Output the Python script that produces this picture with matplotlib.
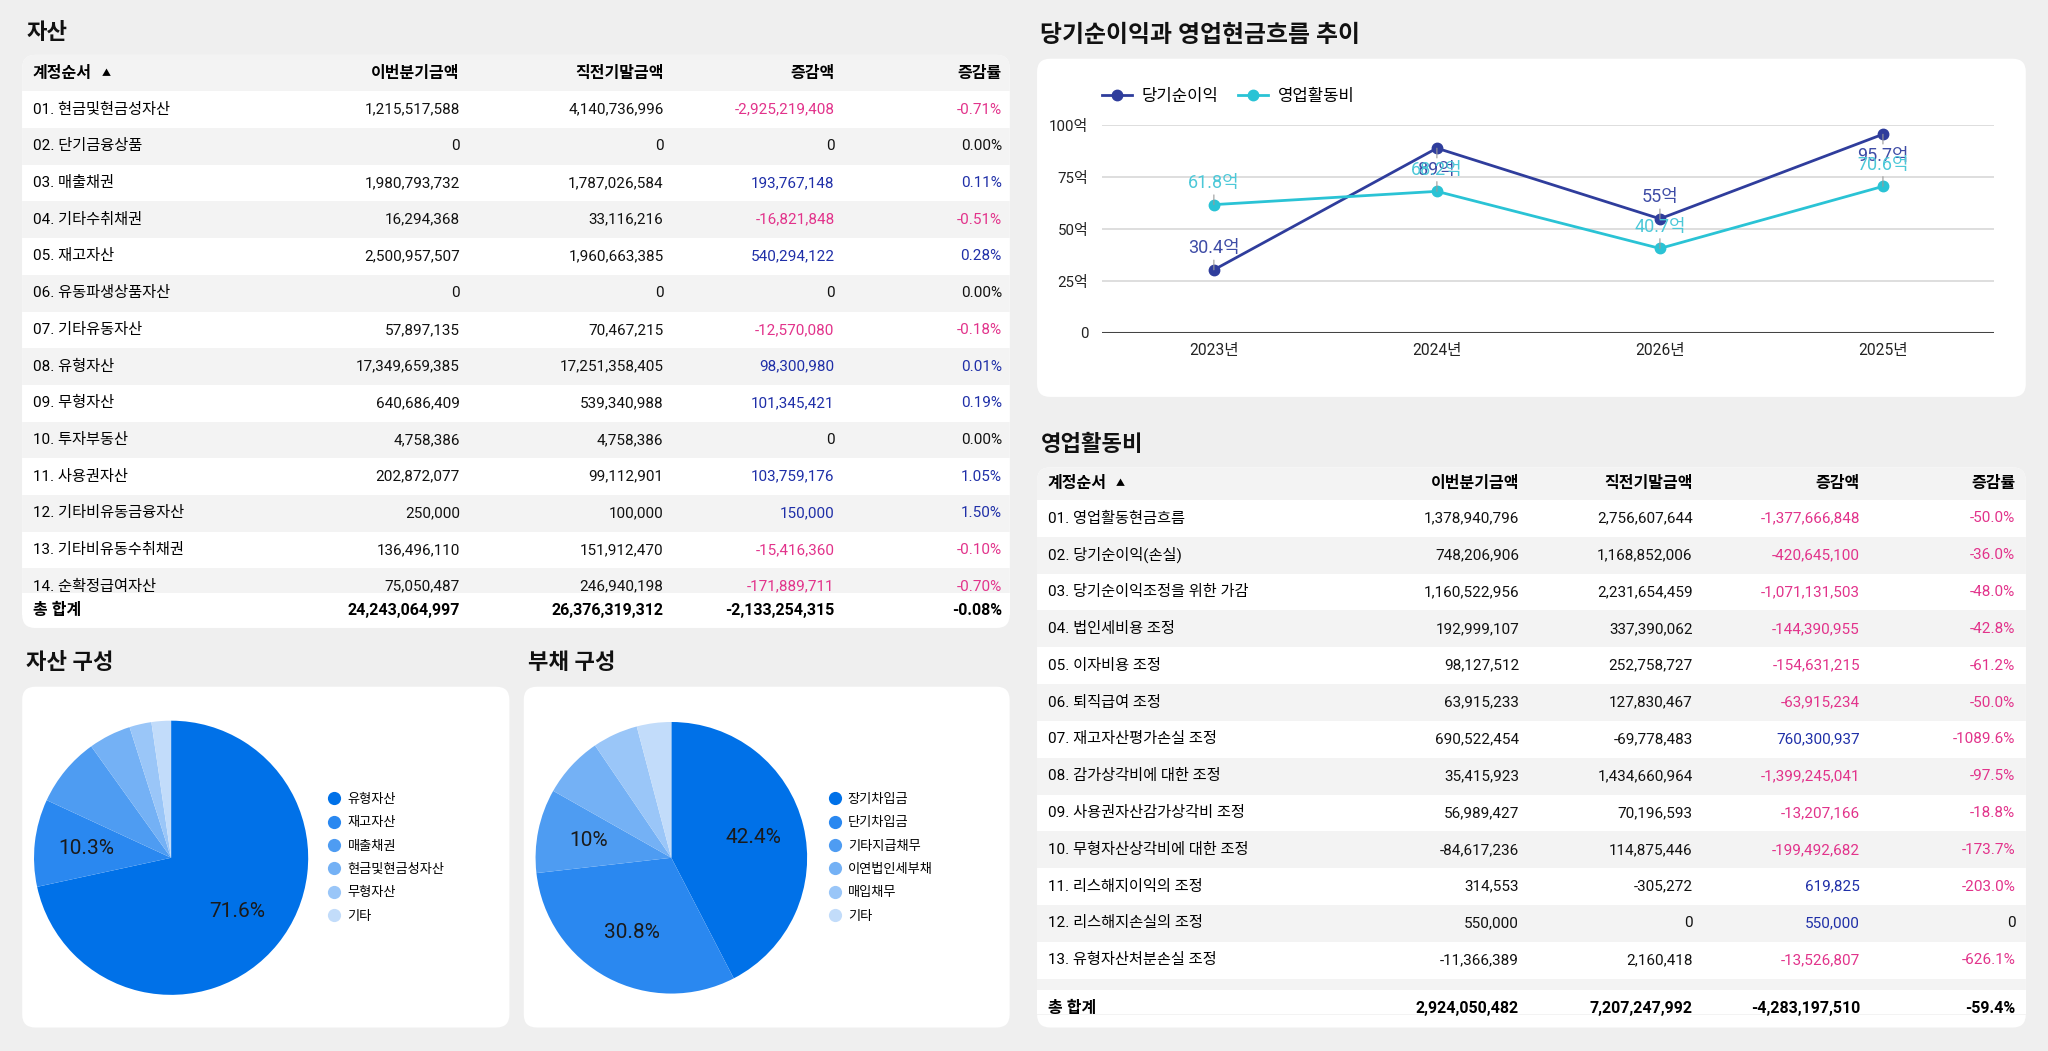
import numpy as np
import matplotlib
matplotlib.use("Agg")
import matplotlib.pyplot as plt
from matplotlib.patches import FancyBboxPatch, Rectangle
from matplotlib.lines import Line2D

plt.rcParams['font.family'] = ['Roboto', 'Noto Sans CJK KR', 'DejaVu Sans']

# ---- 자산 table ----
asset_cols = ["이번분기금액", "직전기말금액", "증감액", "증감률"]
asset_names = ["01. 현금및현금성자산", "02. 단기금융상품", "03. 매출채권", "04. 기타수취채권",
               "05. 재고자산", "06. 유동파생상품자산", "07. 기타유동자산", "08. 유형자산",
               "09. 무형자산", "10. 투자부동산", "11. 사용권자산", "12. 기타비유동금융자산",
               "13. 기타비유동수취채권", "14. 순확정급여자산"]
asset_cur = [1215517588, 0, 1980793732, 16294368, 2500957507, 0, 57897135, 17349659385,
             640686409, 4758386, 202872077, 250000, 136496110, 75050487]
asset_prev = [4140736996, 0, 1787026584, 33116216, 1960663385, 0, 70467215, 17251358405,
              539340988, 4758386, 99112901, 100000, 151912470, 246940198]
asset_diff = [-2925219408, 0, 193767148, -16821848, 540294122, 0, -12570080, 98300980,
              101345421, 0, 103759176, 150000, -15416360, -171889711]
asset_rate = ["-0.71%", "0.00%", "0.11%", "-0.51%", "0.28%", "0.00%", "-0.18%", "0.01%",
              "0.19%", "0.00%", "1.05%", "1.50%", "-0.10%", "-0.70%"]
asset_total = [24243064997, 26376319312, -2133254315]
asset_total_rate = "-0.08%"

# ---- 영업활동비 table ----
cf_names = ["01. 영업활동현금흐름", "02. 당기순이익(손실)", "03. 당기순이익조정을 위한 가감",
            "04. 법인세비용 조정", "05. 이자비용 조정", "06. 퇴직급여 조정",
            "07. 재고자산평가손실 조정", "08. 감가상각비에 대한 조정", "09. 사용권자산감가상각비 조정",
            "10. 무형자산상각비에 대한 조정", "11. 리스해지이익의 조정", "12. 리스해지손실의 조정",
            "13. 유형자산처분손실 조정"]
cf_cur = [1378940796, 748206906, 1160522956, 192999107, 98127512, 63915233, 690522454,
          35415923, 56989427, -84617236, 314553, 550000, -11366389]
cf_prev = [2756607644, 1168852006, 2231654459, 337390062, 252758727, 127830467, -69778483,
           1434660964, 70196593, 114875446, -305272, 0, 2160418]
cf_diff = [-1377666848, -420645100, -1071131503, -144390955, -154631215, -63915234, 760300937,
           -1399245041, -13207166, -199492682, 619825, 550000, -13526807]
cf_rate = ["-50.0%", "-36.0%", "-48.0%", "-42.8%", "-61.2%", "-50.0%", "-1089.6%", "-97.5%",
           "-18.8%", "-173.7%", "-203.0%", "0", "-626.1%"]
cf_total = [2924050482, 7207247992, -4283197510]
cf_total_rate = "-59.4%"

# ---- line chart (억) ----
years = ["2023년", "2024년", "2026년", "2025년"]
net_income = [30.4, 89, 55, 95.7]
op_cost = [61.8, 68.2, 40.7, 70.6]

# ---- pies (%) ----
asset_pie_names = ["유형자산", "재고자산", "매출채권", "현금및현금성자산", "무형자산", "기타"]
asset_pie_vals = [71.6, 10.3, 8.2, 5.0, 2.6, 2.3]
debt_pie_names = ["장기차입금", "단기차입금", "기타지급채무", "이연법인세부채", "매입채무", "기타"]
debt_pie_vals = [42.4, 30.8, 10.0, 7.3, 5.4, 4.1]

NEG = '#e2338b'
POS = '#1f2fa8'
NAVY = '#2f3d9c'
CYAN = '#2ac3d5'
GRAYROW = '#f3f3f3'
PIE_COLORS = ['#0071e8', '#2a88f0', '#4e9cf2', '#74b1f5', '#9ac6f8', '#c2dcfa']

W, H = 1568, 805
fig = plt.figure(figsize=(20.48, 10.51), dpi=100)
fig.patch.set_facecolor('#efefef')
bg = fig.add_axes([0, 0, 1, 1])
bg.set_xlim(0, W)
bg.set_ylim(H, 0)
bg.axis('off')


def card(x0, y0, x1, y1):
    p = FancyBboxPatch((x0, y0), x1 - x0, y1 - y0, boxstyle="round,pad=0,rounding_size=10",
                       fc='white', ec='none', zorder=1)
    bg.add_patch(p)
    return p


def tone(s):
    v = float(str(s).replace('%', '').replace(',', ''))
    return NEG if v < 0 else (POS if v > 0 else '#111111')


def table(box, head_h, row_h, names, cur, prev, diff, rate, total, total_rate,
          col_x, label_x, total_top, extra_bands=0):
    x0, y0, x1, y1 = box
    cp = card(x0, y0, x1, y1)
    hb = Rectangle((x0, y0), x1 - x0, head_h, fc=GRAYROW, ec='none', zorder=1.5)
    bg.add_patch(hb)
    hb.set_clip_path(cp)
    yh = y0 + head_h / 2
    t = bg.text(label_x, yh, "계정순서", fontsize=11.5, fontweight='bold', va='center', zorder=5)
    bg.annotate("▲", xy=(1, 0.5), xycoords=t, xytext=(7, 0), textcoords='offset points',
                fontsize=6.5, va='center', zorder=5)
    for cx, c in zip(col_x, asset_cols):
        bg.text(cx, yh, c, fontsize=11.5, fontweight='bold', ha='right', va='center', zorder=5)
    for i in range(len(names) + extra_bands):
        top = y0 + head_h + i * row_h
        rb = Rectangle((x0, top), x1 - x0, row_h, fc=GRAYROW if i % 2 else 'white',
                       ec='none', zorder=1.5)
        bg.add_patch(rb)
        rb.set_clip_path(cp)
    for i, nm in enumerate(names):
        yc = y0 + head_h + (i + 0.5) * row_h
        bg.text(label_x, yc, nm, fontsize=11, va='center', zorder=3)
        vals = [f"{cur[i]:,}", f"{prev[i]:,}", f"{diff[i]:,}", rate[i]]
        cols = ['#111111', '#111111', tone(diff[i]), tone(rate[i])]
        for cx, v, c in zip(col_x, vals, cols):
            bg.text(cx, yc, v, fontsize=11, ha='right', va='center', color=c, zorder=3)
    tb = Rectangle((x0, total_top), x1 - x0, y1 - total_top - 10, fc='white', ec='none', zorder=4)
    bg.add_patch(tb)
    yt = (total_top + y1) / 2
    bg.text(label_x, yt, "총 합계", fontsize=11.5, fontweight='bold', va='center', zorder=5)
    tv = [f"{v:,}" for v in total] + [total_rate]
    for cx, v in zip(col_x, tv):
        bg.text(cx, yt, v, fontsize=11.5, fontweight='bold', ha='right', va='center', zorder=5)


# titles
for x, y, s, fs in [(20, 25, "자산", 16), (796, 27, "당기순이익과 영업현금흐름 추이", 17.2),
                    (20, 508, "자산 구성", 16), (404, 508, "부채 구성", 16),
                    (797, 341, "영업활동비", 16)]:
    bg.text(x, y, s, fontsize=fs, fontweight='bold', va='center', color='#111111')

table((17, 42, 773, 481), 28, 28.1, asset_names, asset_cur, asset_prev, asset_diff, asset_rate,
      asset_total, asset_total_rate, [352, 508, 639, 767], 25, 454)
table((794, 358, 1551, 787), 25, 28.2, cf_names, cf_cur, cf_prev, cf_diff, cf_rate,
      cf_total, cf_total_rate, [1163, 1296, 1424, 1543], 802, 758.5, extra_bands=1)

# line chart
card(794, 45, 1551, 304)
ax = fig.add_axes([844 / W, 1 - 255 / H, (1527 - 844) / W, (255 - 96) / H])
ax.patch.set_alpha(0)
x = np.arange(len(years))
ax.plot(x, net_income, color=NAVY, lw=2.0, marker='o', ms=7.5, label='당기순이익', zorder=3)
ax.plot(x, op_cost, color=CYAN, lw=2.0, marker='o', ms=7.5, label='영업활동비', zorder=3)
ax.set_xlim(-0.5, len(years) - 0.5)
ax.set_ylim(0, 100)
ax.set_yticks([0, 25, 50, 75, 100])
ax.set_yticklabels(['0', '25억', '50억', '75억', '100억'])
ax.set_xticks(x)
ax.set_xticklabels(years)
ax.grid(axis='y', color='#d8d8d8', lw=1.2)
ax.set_axisbelow(True)
for s in ax.spines.values():
    s.set_visible(False)
ax.axhline(0, color='#444444', lw=2.2, zorder=2)
ax.tick_params(axis='y', length=0, labelsize=10.8, colors='#222222', pad=10)
ax.tick_params(axis='x', length=0, labelsize=11.2, colors='#222222', pad=7)
for series, lc in [(net_income, '#3e4ca6'), (op_cost, '#4cc8d8')]:
    for xi, v in zip(x, series):
        below = v > 85
        ax.annotate(f"{v:g}억", (xi, v), xytext=(0, -9 if below else 9), textcoords='offset points',
                    ha='center', va='top' if below else 'bottom', color=lc, fontsize=13, zorder=4,
                    arrowprops=dict(arrowstyle='-', color='#9a9a9a', lw=0.8, shrinkA=0, shrinkB=0))
ax.legend(loc='center left', bbox_to_anchor=(0, 1.14), ncol=2, frameon=False, fontsize=12,
          borderpad=0, borderaxespad=0, handlelength=1.75, handletextpad=0.6, columnspacing=1.2)

# pies
card(17, 526, 390, 787)
card(401, 526, 773, 787)


def pie_panel(cx, cy, r, vals, names, leg_x):
    axp = fig.add_axes([(cx - r) / W, 1 - (cy + r) / H, 2 * r / W, 2 * r / H])
    axp.pie(vals, colors=PIE_COLORS, startangle=90, counterclock=False,
            autopct=lambda p: (f"{p:.1f}".rstrip('0').rstrip('.') + '%') if p >= 9.95 else '',
            pctdistance=0.62, textprops=dict(fontsize=15, color='#1a1a1a'),
            wedgeprops=dict(lw=0))
    axp.set_xlim(-1, 1)
    axp.set_ylim(-1, 1)
    handles = [Line2D([], [], ls='none', marker='o', ms=9.5, mfc=c, mec='none') for c in PIE_COLORS]
    axp.legend(handles, names, loc='center left', bbox_to_anchor=((leg_x - (cx - r)) / (2 * r), 0.5),
               frameon=False, fontsize=9.5, borderpad=0, borderaxespad=0, handlelength=1,
               handletextpad=0.5, labelspacing=0.78)


pie_panel(131, 657, 105, asset_pie_vals, asset_pie_names, 251)
pie_panel(514, 657, 104, debt_pie_vals, debt_pie_names, 634)

fig.savefig("out.png", dpi=100, facecolor=fig.get_facecolor())
